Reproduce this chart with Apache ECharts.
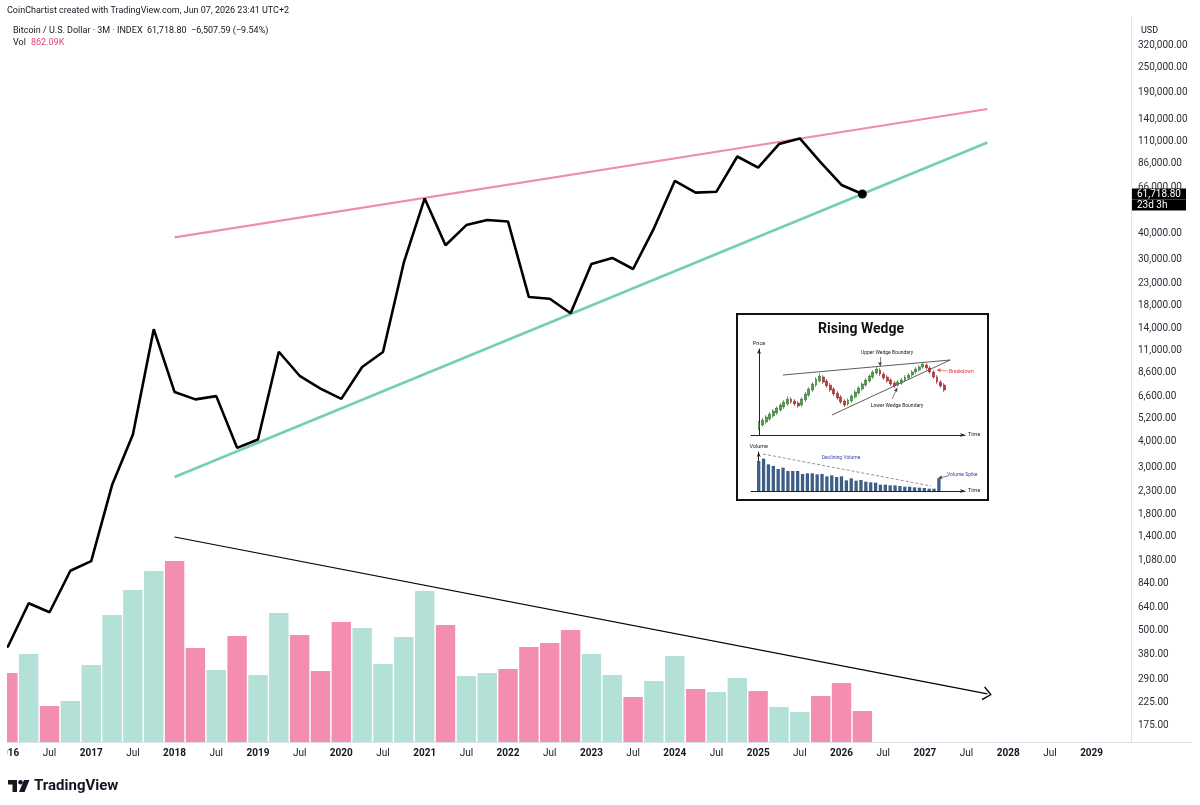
<!DOCTYPE html>
<html>
<head>
<meta charset="utf-8">
<script src="https://cdn.jsdelivr.net/npm/echarts@6/dist/echarts.min.js"></script>
<style>
html, body { margin: 0; padding: 0; background: #fff; }
#chartWrapper { width: 1200px; height: 805px; }
</style>
</head>
<body>
<div id="chartWrapper"></div>
<script>
// quarterly bars, 2015 Q4 .. 2026 Q2 (x value = index in this list)
let quarters = ['2015Q4',
    '2016Q1', '2016Q2', '2016Q3', '2016Q4', '2017Q1', '2017Q2', '2017Q3', '2017Q4',
    '2018Q1', '2018Q2', '2018Q3', '2018Q4', '2019Q1', '2019Q2', '2019Q3', '2019Q4',
    '2020Q1', '2020Q2', '2020Q3', '2020Q4', '2021Q1', '2021Q2', '2021Q3', '2021Q4',
    '2022Q1', '2022Q2', '2022Q3', '2022Q4', '2023Q1', '2023Q2', '2023Q3', '2023Q4',
    '2024Q1', '2024Q2', '2024Q3', '2024Q4', '2025Q1', '2025Q2', '2025Q3', '2025Q4',
    '2026Q1', '2026Q2'];
let closes = [430,
    416, 673, 609, 963, 1071, 2480, 4338, 13880,
    6926, 6390, 6625, 3742, 4105, 10814, 8294, 7194,
    6424, 9137, 10776, 28990, 58800, 35040, 43790, 46306,
    45538, 19785, 19423, 16547, 28478, 30477, 26967, 42265,
    71289, 62678, 63329, 93429, 82550, 107135, 114000, 87500,
    68226, 61718.8];
// volume in thousands, starting 2016Q1
let volumes = [1919, 2447, 1001, 1140, 2141, 3532, 4227, 4756,
    5034, 2614, 2002, 2948, 1863, 3587, 2976, 1975,
    3337, 3170, 2169, 2920, 4199, 3254, 1835, 1919,
    2030, 2642, 2753, 3115, 2447, 1863, 1251, 1696,
    2392, 1474, 1391, 1780, 1418, 973, 834, 1279,
    1641, 862];

let priceTicks = [320000, 250000, 190000, 140000, 110000, 86000, 66000, 40000, 30000,
    23000, 18000, 14000, 11000, 8600, 6600, 5200, 4000, 3000, 2300, 1800, 1400, 1080,
    840, 640, 500, 380, 290, 225, 175];
let timeTicks = ['2016', 'Jul', '2017', 'Jul', '2018', 'Jul', '2019', 'Jul', '2020', 'Jul',
    '2021', 'Jul', '2022', 'Jul', '2023', 'Jul', '2024', 'Jul', '2025', 'Jul', '2026', 'Jul',
    '2027', 'Jul', '2028', 'Jul', '2029'];

// trend lines [quarter index, price]
let wedgeUpper = [[9, 38270], [48, 157800]];
let wedgeLower = [[9, 2712], [48, 108960]];
let volumeArrow = [[9, 1398], [48, 247]];

// inset "Rising Wedge" sketch: [open, close, low, high]
let insetCandles = [
    [12, 17, 10, 19], [15, 20, 13, 22], [18, 23, 16, 25], [21, 26, 19, 28], [24, 29, 22, 31],
    [27, 32, 25, 34], [30, 35, 28, 37], [33, 38, 31, 40], [36, 41, 34, 44],
    [41, 38, 36, 43], [39, 36, 34, 41], [37, 34, 32, 39],
    [35, 41, 33, 43], [40, 46, 38, 48], [45, 51, 43, 53], [50, 56, 48, 58], [55, 61, 53, 63], [59, 64, 57, 67],
    [63, 58, 56, 65], [59, 54, 52, 61], [55, 50, 48, 57], [51, 46, 44, 53], [47, 42, 40, 49], [43, 38, 36, 45], [39, 35, 33, 41],
    [36, 40, 34, 42], [39, 44, 37, 46], [43, 48, 41, 50], [47, 52, 45, 54], [51, 56, 49, 58],
    [55, 60, 53, 62], [59, 64, 57, 66], [63, 68, 61, 70], [67, 71, 65, 73],
    [70, 66, 64, 72], [66, 62, 60, 68], [63, 59, 57, 65], [60, 56, 54, 62], [57, 54, 52, 59],
    [55, 58, 53, 60], [57, 60, 55, 62], [60, 63, 58, 65], [62, 65, 60, 67], [65, 68, 63, 70],
    [68, 71, 66, 73], [70, 73, 68, 75], [73, 76, 71, 78],
    [75, 72, 70, 77], [72, 68, 66, 74], [68, 63, 61, 70], [63, 58, 56, 65], [58, 54, 52, 60], [55, 50, 48, 57]];
let insetVolume = [90, 97, 80, 75, 66, 70, 60, 60, 60, 51, 53, 53, 50, 51, 44, 47, 42, 44, 32,
    38, 31, 33, 28, 26, 25, 19, 19, 17, 17, 15, 13, 13, 11, 10, 9, 7, 7, 38];
let insetUpperEdge = [[6.7, 65], [53.7, 80]];
let insetLowerEdge = [[20.5, 25], [53.7, 80]];
let upperPointer = [[34, 83], [34, 74]];
let lowerPointer = [[37.4, 41], [38.8, 52]];
let breakdownPointer = [[53.1, 69], [50.0, 70]];
let volumeTrend = [[0.9, 111], [35.4, 15]];
let spikePointer = [[38.9, 45], [36.9, 39]];

let PINK = '#f38eb0';
let TEAL = '#b3e0d7';
let LOG_MIN = 145.3;
let LOG_MAX = 435990;
let lastPrice = closes[closes.length - 1];

function fmtPrice(v) {
    return v.toLocaleString('en-US', {minimumFractionDigits: 2, maximumFractionDigits: 2});
}

let myChart = echarts.init(document.getElementById('chartWrapper'));

let chevron = 'path://M0,10 L7,0 L14,10 L12.8,11 L7,2.4 L1.2,11 Z';

let labelValues = priceTicks.map(function (t) { return Math.log10(t); });
labelValues.push(Math.log10(lastPrice));

let option = {
    animation: false,
    backgroundColor: '#fff',
    textStyle: {fontFamily: 'Roboto'},
    grid: [
        {left: 7, right: 69, top: 17, bottom: 63, outerBoundsMode: 'none'},
        {left: 751, right: 235, top: 349, bottom: 370, outerBoundsMode: 'none'},
        {left: 751, right: 235, top: 452, bottom: 314, outerBoundsMode: 'none'}
    ],
    xAxis: [
        {
            type: 'value', gridIndex: 0, min: 0.959, max: 54.89,
            axisLine: {show: true, lineStyle: {color: '#e0e3eb'}},
            axisTick: {show: false},
            splitLine: {show: false},
            axisLabel: {
                customValues: timeTicks.map(function (t, i) { return 1 + 2 * i; }),
                formatter: function (v) {
                    let t = timeTicks[Math.round((v - 1) / 2)];
                    return t === 'Jul' ? t : '{y|' + t + '}';
                },
                margin: 6, fontSize: 10, color: '#131722',
                rich: {y: {fontWeight: 'bold', fontSize: 10, color: '#131722'}}
            }
        },
        {
            type: 'value', gridIndex: 1, min: -2.25, max: 57.87,
            axisLine: {show: true, symbol: ['none', 'arrow'], symbolSize: [3, 5], lineStyle: {color: '#222', width: 1}},
            axisTick: {show: false}, axisLabel: {show: false}, splitLine: {show: false},
            name: 'Time', nameLocation: 'end', nameGap: 3,
            nameTextStyle: {fontSize: 5.5, color: '#222'}
        },
        {
            type: 'value', gridIndex: 2, min: -1.58, max: 42.36,
            axisLine: {show: true, symbol: ['none', 'arrow'], symbolSize: [3, 5], lineStyle: {color: '#222', width: 1}},
            axisTick: {show: false}, axisLabel: {show: false}, splitLine: {show: false},
            name: 'Time', nameLocation: 'end', nameGap: 3,
            nameTextStyle: {fontSize: 5.5, color: '#222'}
        }
    ],
    yAxis: [
        {
            type: 'log', logBase: 10, gridIndex: 0, position: 'right', min: LOG_MIN, max: LOG_MAX,
            axisLine: {show: false}, axisTick: {show: false}, axisLabel: {show: false}, splitLine: {show: false}
        },
        {
            // label axis: same log range, laid out linearly
            type: 'value', gridIndex: 0, position: 'right',
            min: Math.log10(LOG_MIN), max: Math.log10(LOG_MAX),
            axisLine: {show: true, lineStyle: {color: '#e0e3eb'}},
            axisTick: {show: false}, splitLine: {show: false},
            axisLabel: {
                customValues: labelValues,
                margin: 1, fontSize: 10, color: '#131722',
                formatter: function (v) {
                    if (Math.abs(v - Math.log10(lastPrice)) < 1e-9) {
                        return '{pad| }\n{tag|' + fmtPrice(lastPrice) + '}\n{tag|23d 3h}';
                    }
                    let p = priceTicks.find(function (t) { return Math.abs(Math.log10(t) - v) < 1e-9; });
                    return '{n|' + fmtPrice(p) + '}';
                },
                rich: {
                    n: {padding: [0, 0, 0, 6], fontSize: 10, color: '#2a2e39'},
                    tag: {backgroundColor: '#000', color: '#fff', fontSize: 10, width: 47,
                        padding: [0, 2, 0, 5], height: 11, lineHeight: 11},
                    pad: {color: 'transparent', fontSize: 10, height: 11, lineHeight: 11}
                }
            }
        },
        {
            type: 'value', gridIndex: 0, min: 0, max: 20160, show: false
        },
        {
            type: 'value', gridIndex: 1, min: 5, max: 91,
            axisLine: {show: true, symbol: ['none', 'arrow'], symbolSize: [3, 5], lineStyle: {color: '#222', width: 1}},
            axisTick: {show: false}, axisLabel: {show: false}, splitLine: {show: false},
            name: 'Price', nameLocation: 'end', nameGap: 2,
            nameTextStyle: {fontSize: 5.5, color: '#222'}
        },
        {
            type: 'value', gridIndex: 2, min: 0, max: 117,
            axisLine: {show: true, symbol: ['none', 'arrow'], symbolSize: [3, 5], lineStyle: {color: '#222', width: 1}},
            axisTick: {show: false}, axisLabel: {show: false}, splitLine: {show: false},
            name: 'Volume', nameLocation: 'end', nameGap: 2,
            nameTextStyle: {fontSize: 5.5, color: '#222'}
        }
    ],
    series: [
        {
            name: 'Vol', type: 'bar', xAxisIndex: 0, yAxisIndex: 2, clip: true, z: 1,
            barWidth: 19.4,
            data: volumes.map(function (v, j) {
                let up = closes[j + 1] >= closes[j];
                return {value: [j + 1, v], itemStyle: {color: up ? TEAL : PINK}};
            })
        },
        {
            name: 'wedgeUpper', type: 'line', xAxisIndex: 0, yAxisIndex: 0, z: 3,
            symbol: 'none', data: wedgeUpper,
            lineStyle: {color: '#ee8fa9', width: 2.2}
        },
        {
            name: 'wedgeLower', type: 'line', xAxisIndex: 0, yAxisIndex: 0, z: 3,
            symbol: 'none', data: wedgeLower,
            lineStyle: {color: '#74cfb3', width: 2.6}
        },
        {
            name: 'volumeArrow', type: 'line', xAxisIndex: 0, yAxisIndex: 0, z: 3,
            data: [], silent: true,
            markLine: {
                silent: true, animation: false,
                symbol: ['none', chevron], symbolSize: [14, 9],
                label: {show: false},
                lineStyle: {color: '#000', width: 1.2, type: 'solid'},
                data: [[{coord: volumeArrow[0]}, {coord: volumeArrow[1]}]]
            }
        },
        {
            name: 'BTC', type: 'line', xAxisIndex: 0, yAxisIndex: 0, z: 5, clip: true,
            symbol: 'none',
            data: closes.map(function (c, i) { return [i, c]; }),
            lineStyle: {color: '#000', width: 2.6},
            markPoint: {
                symbol: 'circle', symbolSize: 9, silent: true,
                itemStyle: {color: '#000'}, label: {show: false},
                data: [{coord: [closes.length - 1, lastPrice]}]
            }
        },
        {
            name: 'insetPrice', type: 'candlestick', xAxisIndex: 1, yAxisIndex: 3, z: 5,
            barWidth: 2.4,
            encode: {x: 0, y: [1, 2, 3, 4]},
            data: insetCandles.map(function (c, i) { return [i].concat(c); }),
            itemStyle: {color: '#4f9d4a', color0: '#c0393b', borderColor: '#2f6e2c', borderColor0: '#8e2225', borderWidth: 0.6},
            markLine: {
                silent: true, animation: false, symbol: ['none', 'none'],
                label: {show: false},
                lineStyle: {color: '#333', width: 0.8, type: 'solid'},
                data: [
                    [{coord: insetUpperEdge[0]}, {coord: insetUpperEdge[1]}],
                    [{coord: insetLowerEdge[0]}, {coord: insetLowerEdge[1]}]
                ]
            }
        },
        {
            name: 'insetPointers', type: 'line', xAxisIndex: 1, yAxisIndex: 3, z: 6, data: [],
            markLine: {
                silent: true, animation: false, symbol: ['none', 'arrow'], symbolSize: [3, 4],
                label: {show: false},
                lineStyle: {color: '#333', width: 0.6, type: 'solid'},
                data: [
                    [{coord: upperPointer[0]}, {coord: upperPointer[1]}],
                    [{coord: lowerPointer[0]}, {coord: lowerPointer[1]}],
                    [{coord: breakdownPointer[0], lineStyle: {color: '#e53935', width: 0.6}}, {coord: breakdownPointer[1]}]
                ]
            }
        },
        {
            name: 'insetVolume', type: 'bar', xAxisIndex: 2, yAxisIndex: 4, z: 5,
            barWidth: 3.3,
            itemStyle: {color: '#3f5e86'},
            data: insetVolume.map(function (v, i) { return [i, v]; }),
            markLine: {
                silent: true, animation: false, symbol: ['none', 'none'],
                label: {show: false},
                lineStyle: {color: '#777', width: 0.8, type: [3, 2]},
                data: [
                    [{coord: volumeTrend[0]}, {coord: volumeTrend[1]}],
                    [{coord: spikePointer[0], symbol: 'none', lineStyle: {color: '#333', type: 'solid', width: 0.6}},
                     {coord: spikePointer[1], symbol: 'arrow', symbolSize: [3, 4]}]
                ]
            }
        }
    ],
    graphic: [
        {type: 'rect', z: 0, shape: {x: 737, y: 314, width: 251, height: 186},
            style: {fill: '#fff', stroke: '#111', lineWidth: 2}},
        {type: 'text', z: 10, x: 861, y: 329,
            style: {text: 'Rising Wedge', font: 'bold 14px Roboto', fill: '#111', align: 'center', verticalAlign: 'middle'}},
        {type: 'text', z: 10, x: 887, y: 352.5,
            style: {text: 'Upper Wedge Boundary', font: '5px Roboto', fill: '#222', align: 'center', verticalAlign: 'middle'}},
        {type: 'text', z: 10, x: 897, y: 405.5,
            style: {text: 'Lower Wedge Boundary', font: '5px Roboto', fill: '#222', align: 'center', verticalAlign: 'middle'}},
        {type: 'text', z: 10, x: 949, y: 372,
            style: {text: 'Breakdown', font: '5px Roboto', fill: '#e53935', align: 'left', verticalAlign: 'middle'}},
        {type: 'text', z: 10, x: 841, y: 458,
            style: {text: 'Declining Volume', font: '5px Roboto', fill: '#3646a8', align: 'center', verticalAlign: 'middle'}},
        {type: 'text', z: 10, x: 947, y: 475,
            style: {text: 'Volume Spike', font: '5px Roboto', fill: '#3646a8', align: 'left', verticalAlign: 'middle'}},

        // the pane starts at x = 7: blank the strip left of it
        {type: 'rect', z: 100, shape: {x: 0, y: 480, width: 7, height: 285}, style: {fill: '#fff'}},

        {type: 'text', x: 7, y: 11,
            style: {text: 'CoinChartist created with TradingView.com, Jun 07, 2026 23:41 UTC+2', font: '9px Roboto', fill: '#131722', verticalAlign: 'middle'}},
        {type: 'text', x: 13, y: 31,
            style: {text: 'Bitcoin / U.S. Dollar · 3M · INDEX  61,718.80  \u22126,507.59 (\u22129.54%)', font: '9px Roboto', fill: '#131722', verticalAlign: 'middle'}},
        {type: 'text', x: 13, y: 43,
            style: {text: 'Vol', font: '9px Roboto', fill: '#131722', verticalAlign: 'middle'}},
        {type: 'text', x: 31, y: 43,
            style: {text: '862.09K', font: '9px Roboto', fill: '#e0457b', verticalAlign: 'middle'}},
        {type: 'text', x: 1141, y: 31,
            style: {text: 'USD', font: '9px Roboto', fill: '#131722', verticalAlign: 'middle'}},
        {type: 'line', shape: {x1: 1131, y1: 742.5, x2: 1192, y2: 742.5}, style: {stroke: '#e0e3eb', lineWidth: 1}},

        // TradingView logo
        {type: 'polygon', shape: {points: [[8, 780], [17, 780], [17, 792], [12.5, 792], [12.5, 784.5], [8, 784.5]]}, style: {fill: '#131722'}},
        {type: 'circle', shape: {cx: 20.5, cy: 782.3, r: 2.3}, style: {fill: '#131722'}},
        {type: 'polygon', shape: {points: [[24, 780], [29.5, 780], [24.5, 792], [19, 792]]}, style: {fill: '#131722'}},
        {type: 'text', x: 34, y: 786,
            style: {text: 'TradingView', font: 'bold 15px Roboto', fill: '#131722', verticalAlign: 'middle'}}
    ]
};

myChart.setOption(option);
</script>
</body>
</html>
